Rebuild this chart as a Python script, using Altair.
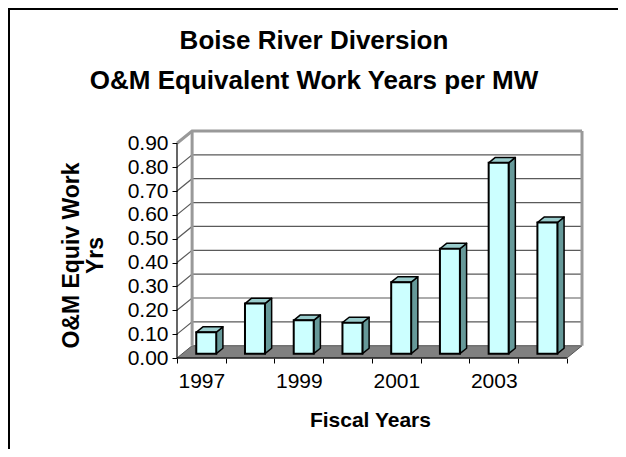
import altair as alt
import pandas as pd

# ---------------- data ----------------
years = [1997, 1998, 1999, 2000, 2001, 2002, 2003, 2004]
values = [0.09, 0.21, 0.14, 0.13, 0.30, 0.44, 0.80, 0.55]
y_ticks = [0.0, 0.1, 0.2, 0.3, 0.4, 0.5, 0.6, 0.7, 0.8, 0.9]
x_label_years = [1997, 1999, 2001, 2003]
title_lines = ["Boise River Diversion", "O&M Equivalent Work Years per MW"]
y_title = ["O&M Equiv Work", "Yrs"]
x_title = "Fiscal Years"

# ---------------- 3D style constants ----------------
N = len(years)
YMAX = y_ticks[-1]
DX, DY = 0.31, 0.0515      # wall depth (category units, value units)
BX0, BW = 0.395, 0.41      # bar front-face offset and width inside a category
BD, BDY = 0.137, 0.0227    # bar depth
BY = 0.018                 # bar base lift above the front edge
W, H = 405, 227
FONT = "Liberation Sans"

# ---------------- derived tables ----------------
bars = pd.DataFrame({"i": range(N), "year": years, "value": values})
bars["xl"] = bars["i"] + BX0
bars["xr"] = bars["xl"] + BW
bars["yb"] = BY
bars["yt"] = BY + bars["value"]

side_rows, top_rows = [], []
for r in bars.itertuples():
    side_rows += [
        dict(bar=r.i, x=r.xr, lo=r.yb, hi=r.yt),
        dict(bar=r.i, x=r.xr + BD, lo=r.yb + BDY, hi=r.yt + BDY),
    ]
    top_rows += [
        dict(bar=r.i, x=r.xl, lo=r.yt, hi=r.yt),
        dict(bar=r.i, x=r.xl + BD, lo=r.yt, hi=r.yt + BDY),
        dict(bar=r.i, x=r.xr, lo=r.yt, hi=r.yt + BDY),
        dict(bar=r.i, x=r.xr + BD, lo=r.yt + BDY, hi=r.yt + BDY),
    ]
side = pd.DataFrame(side_rows)
top = pd.DataFrame(top_rows)

floor = pd.DataFrame({"x": [0, DX, N, N + DX], "lo": [0, 0, 0, DY], "hi": [0, DY, DY, DY]})

grid_rows = []
for v in y_ticks[1:-1]:
    grid_rows += [dict(g=v, o=0, x=0, y=v), dict(g=v, o=1, x=DX, y=v + DY),
                  dict(g=v, o=2, x=N + DX, y=v + DY)]
grid = pd.DataFrame(grid_rows)

edges = pd.DataFrame([
    dict(g="top", o=0, x=0, y=YMAX), dict(g="top", o=1, x=DX, y=YMAX + DY),
    dict(g="top", o=2, x=N + DX, y=YMAX + DY),
    dict(g="left", o=0, x=DX, y=DY), dict(g="left", o=1, x=DX, y=YMAX + DY),
    dict(g="right", o=0, x=N + DX, y=DY), dict(g="right", o=1, x=N + DX, y=YMAX + DY),
])

front = pd.DataFrame([dict(x=0, x2=N, y=0, y2=0), dict(x=0, x2=0, y=0, y2=YMAX)])

xscale = alt.Scale(domain=[0, N + DX], nice=False, zero=False)
yscale = alt.Scale(domain=[0, YMAX + DY], nice=False, zero=False)

label_expr = (f"indexof({x_label_years}, {years}[datum.value]) >= 0 ? "
              f"'' + {years}[datum.value] : ''")

xax = alt.Axis(values=list(range(N + 1)), labelExpr=label_expr, labelOffset=W / (N + DX) / 2,
               tickSize=5, tickColor="black", domain=False, grid=False,
               labelFontSize=21, labelPadding=7, labelColor="black", labelFont=FONT,
               labelFlush=False, labelOverlap=False,
               title=x_title, titleFontSize=21, titleFontWeight="bold", titleFont=FONT,
               titleColor="black", titleX=W / (N + DX) * N / 2 - 2, titleY=62,
               titleBaseline="middle", titleAlign="center")
yax = alt.Axis(values=y_ticks, format=".2f", tickSize=5, tickColor="black", domain=False,
               grid=False, labelFontSize=21, labelPadding=4, labelColor="black",
               labelFont=FONT, labelFlush=False, labelOverlap=False,
               title=y_title, titleFontSize=23, titleFontWeight="bold", titleFont=FONT,
               titleColor="black", titleX=-106, titleY=124, titleAngle=270,
               titleBaseline="middle", titleAlign="center", titleLineHeight=24)


def X(field):
    return alt.X(field, type="quantitative", scale=xscale, axis=xax)


def Y(field):
    return alt.Y(field, type="quantitative", scale=yscale, axis=yax)


frame = alt.Chart(pd.DataFrame({"k": [0]})).mark_rect(
    fill="white", fillOpacity=0, stroke="black", strokeWidth=2
).encode(x=alt.value(-168), x2=alt.value(W + 60), y=alt.value(-122), y2=alt.value(H + 120))

floor_l = alt.Chart(floor).mark_area(color="#808080", orient="vertical",
                                     stroke="#555555", strokeWidth=1).encode(
    x=X("x"), y=Y("lo"), y2="hi")

grid_l = alt.Chart(grid).mark_line(color="#5a5a5a", strokeWidth=1.2).encode(
    x=X("x"), y=Y("y"), detail="g:N", order="o:Q")

edges_l = alt.Chart(edges).mark_line(color="#999999", strokeWidth=3).encode(
    x=X("x"), y=Y("y"), detail="g:N", order="o:Q")

side_l = alt.Chart(side).mark_area(color="#669999", orient="vertical", stroke="black",
                                   strokeWidth=1.5, strokeJoin="round").encode(
    x=X("x"), y=Y("lo"), y2="hi", detail="bar:N")

top_l = alt.Chart(top).mark_area(color="#99CCCC", orient="vertical", stroke="black",
                                 strokeWidth=1.5, strokeJoin="round").encode(
    x=X("x"), y=Y("lo"), y2="hi", detail="bar:N")

front_l = alt.Chart(bars).mark_rect(color="#CCFFFF", stroke="black", strokeWidth=2).encode(
    x=X("xl"), x2="xr", y=Y("yb"), y2="yt")

axes_l = alt.Chart(front).mark_rule(color="black", strokeWidth=1.2).encode(
    x=X("x"), x2="x2", y=Y("y"), y2="y2")

chart = alt.layer(frame, floor_l, grid_l, edges_l, side_l, top_l, front_l, axes_l).properties(
    width=W, height=H,
    autosize=alt.AutoSizeParams(type="none"),
    padding={"left": 169, "top": 123, "right": 36, "bottom": 91},
    background="white",
    title=alt.TitleParams(text=title_lines, fontSize=26, fontWeight="bold", font=FONT,
                          color="black", anchor="middle", dx=-65.5, offset=-107,
                          baseline="alphabetic", lineHeight=40),
).configure_view(stroke=None)

chart.save("out.html", embed_options={"renderer": "svg", "actions": False})
